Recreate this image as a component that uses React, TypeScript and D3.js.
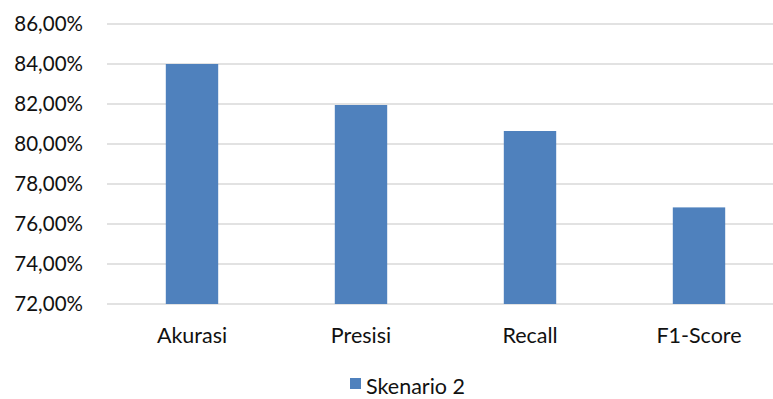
import React from "react";
import * as d3 from "d3";

const categories = ["Akurasi", "Presisi", "Recall", "F1-Score"];
const values = [84.0, 81.95, 80.65, 76.83];
const tickValues = [72, 74, 76, 78, 80, 82, 84, 86];
const seriesName = "Skenario 2";

const W = 773;
const H = 399;

export default function App() {
  const x = d3.scaleBand<string>().domain(categories).range([107.5, 783.5]).paddingInner(0.69).paddingOuter(0.345);
  const y = d3.scaleLinear().domain([72, 86]).range([304, 24]);
  const fmt = (v: number) => v.toFixed(2).replace(".", ",") + "%";
  const font = "Lato, 'Open Sans', sans-serif";
  return (
    <div style={{ position: "absolute", left: 0, top: 0 }}>
      <svg width={W} height={H} style={{ display: "block", background: "#fff" }} fontFamily={font}>
        {tickValues.map((t) => (
          <g key={t}>
            <line x1={107} x2={W} y1={y(t)} y2={y(t)} stroke="#d9d9d9" strokeWidth={1.5} />
            <text x={83} y={y(t)} dy="0.35em" textAnchor="end" fontSize={20.5} fill="#111">
              {fmt(t)}
            </text>
          </g>
        ))}
        {categories.map((c, i) => (
          <rect key={c} x={x(c)} y={y(values[i])} width={x.bandwidth()} height={y(72) - y(values[i])} fill="#4f81bd" />
        ))}
        {categories.map((c) => (
          <text key={c} x={(x(c) as number) + x.bandwidth() / 2} y={343} textAnchor="middle" fontSize={21.5} fill="#111">
            {c}
          </text>
        ))}
        <rect x={350} y={378} width={11} height={11} fill="#4f81bd" />
        <text x={366} y={394} fontSize={21.5} fill="#111">
          {seriesName}
        </text>
      </svg>
    </div>
  );
}
